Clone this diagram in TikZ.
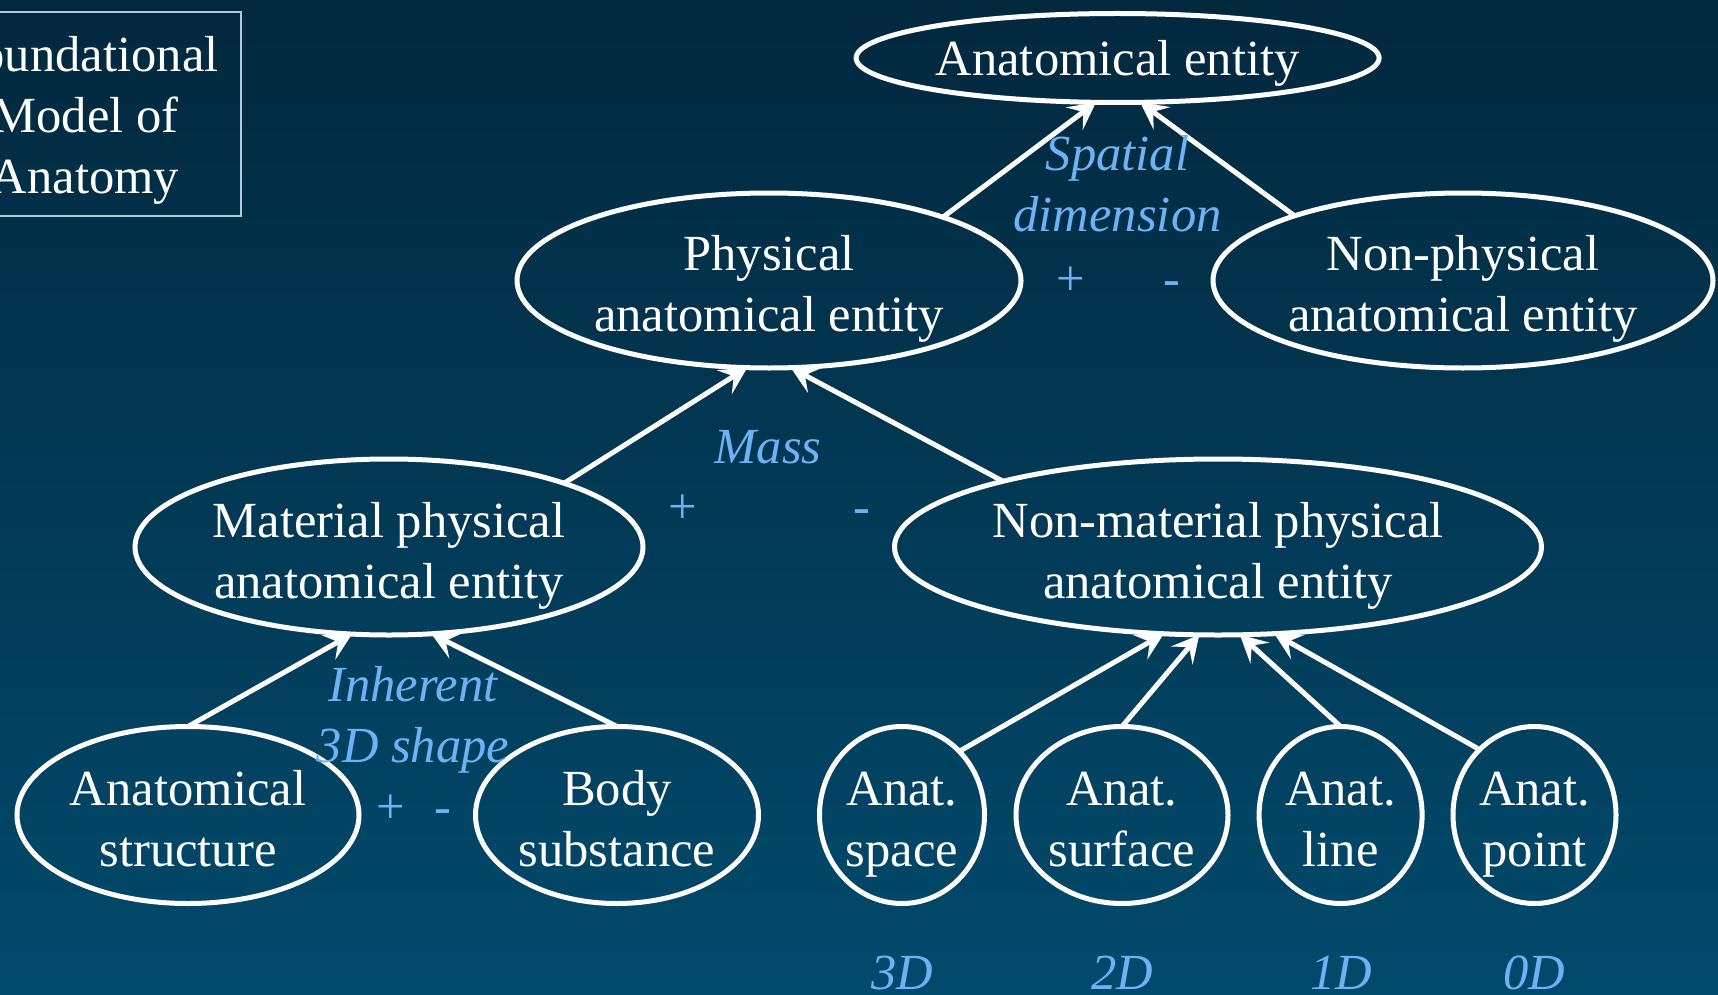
\documentclass[tikz,border=0pt]{standalone}
\usepackage{fontspec}
\setmainfont{Liberation Serif}
\usetikzlibrary{arrows.meta,shapes.geometric}
\definecolor{bgtop}{RGB}{2,40,62}
\definecolor{bgbot}{RGB}{2,74,108}
\definecolor{lblue}{RGB}{110,178,245}
\definecolor{boxline}{RGB}{175,200,218}
\tikzset{
  ent/.style={ellipse, draw=white, line width=5pt, inner sep=0pt, outer sep=0pt,
    text=white, align=center, font=\fontsize{50.6}{61}\selectfont,
    text height=102pt, text depth=0pt},
  lbl/.style={text=lblue, align=center, inner sep=0pt, font=\fontsize{50.6}{61}\selectfont\itshape},
  sgn/.style={text=lblue, inner sep=0pt, anchor=base, font=\fontsize{50.6}{61}\selectfont},
  isa/.style={draw=white, line width=5pt, -{Stealth[length=27pt,width=28pt,inset=11pt]}},
  frame/.style={draw=boxline, line width=2pt, inner sep=0pt},
  boxtext/.style={text=white, align=center, inner sep=0pt, font=\fontsize{50.6}{61}\selectfont},
}
\begin{document}
\begin{tikzpicture}[x=1pt,y=-1pt]
\path[use as bounding box] (0,0) rectangle (1718,995);
\shade[top color=bgtop, bottom color=bgbot] (0,0) rectangle (1718,995);

% title box
\node[frame, minimum width=312pt, minimum height=204pt] (frm) at (85,114) {};
\node[boxtext] (fma) at (85,120) {Foundational\\Model of\\Anatomy};

% entities
\node[ent, text height=36pt, minimum width=523pt, minimum height=89pt] (anat) at (1117.6,58) {Anatomical entity};
\node[ent, minimum width=504pt, minimum height=175pt] (phys) at (769,280.5) {Physical\\anatomical entity};
\node[ent, minimum width=500pt, minimum height=175pt] (nphys) at (1463,280.5) {Non-physical\\anatomical entity};
\node[ent, minimum width=508pt, minimum height=176pt] (mat) at (389,547) {Material physical\\anatomical entity};
\node[ent, minimum width=647pt, minimum height=176pt] (nmat) at (1218,547) {Non-material physical\\anatomical entity};
\node[ent, minimum width=342pt, minimum height=177pt] (struct) at (188,815) {Anatomical\\structure};
\node[ent, minimum width=283pt, minimum height=177pt] (body) at (617,815) {Body\\substance};
\node[ent, minimum width=165pt, minimum height=177pt] (space) at (902,815) {Anat.\\space};
\node[ent, minimum width=212pt, minimum height=177pt] (surf) at (1122,815) {Anat.\\surface};
\node[ent, minimum width=163pt, minimum height=177pt] (line) at (1340.6,815) {Anat.\\line};
\node[ent, minimum width=163pt, minimum height=177pt] (point) at (1534.5,815) {Anat.\\point};

% is-a arrows
\draw[isa] (phys.20) -- (anat.-116.5);
\draw[isa] (nphys.159.2) -- (anat.-63);
\draw[isa] (mat.20.3) -- (phys.-104.6);
\draw[isa] (nmat.163.5) -- (phys.-76.2);
\draw[isa] (struct.90) -- (mat.-113.6);
\draw[isa] (body.90) -- (mat.-64.9);
\draw[isa] (space.48.2) -- (nmat.-122.4);
\draw[isa] (surf.90) -- (nmat.-102.9);
\draw[isa] (line.90) -- (nmat.-76.3);
\draw[isa] (point.130.6) -- (nmat.-57.6);

% differentia labels
\node[lbl] (sd) at (1117.6,184) {Spatial\\dimension};
\node[sgn] (sdp) at (1070.5,295) {+};
\node[sgn] (sdm) at (1172,295) {-};
\node[lbl, anchor=base] (mass) at (768,463) {Mass};
\node[sgn] (mp) at (682.6,523) {+};
\node[sgn] (mm) at (862,523) {-};
\node[lbl] (ish) at (413,720) {Inherent\\3D shape};
\node[sgn] (ip) at (391,823.6) {+};
\node[sgn] (im) at (442.7,823.6) {-};
\node[lbl, anchor=base] (d3) at (902,989) {3D};
\node[lbl, anchor=base] (d2) at (1122,989) {2D};
\node[lbl, anchor=base] (d1) at (1341,989) {1D};
\node[lbl, anchor=base] (d0) at (1534,989) {0D};
\end{tikzpicture}
\end{document}
